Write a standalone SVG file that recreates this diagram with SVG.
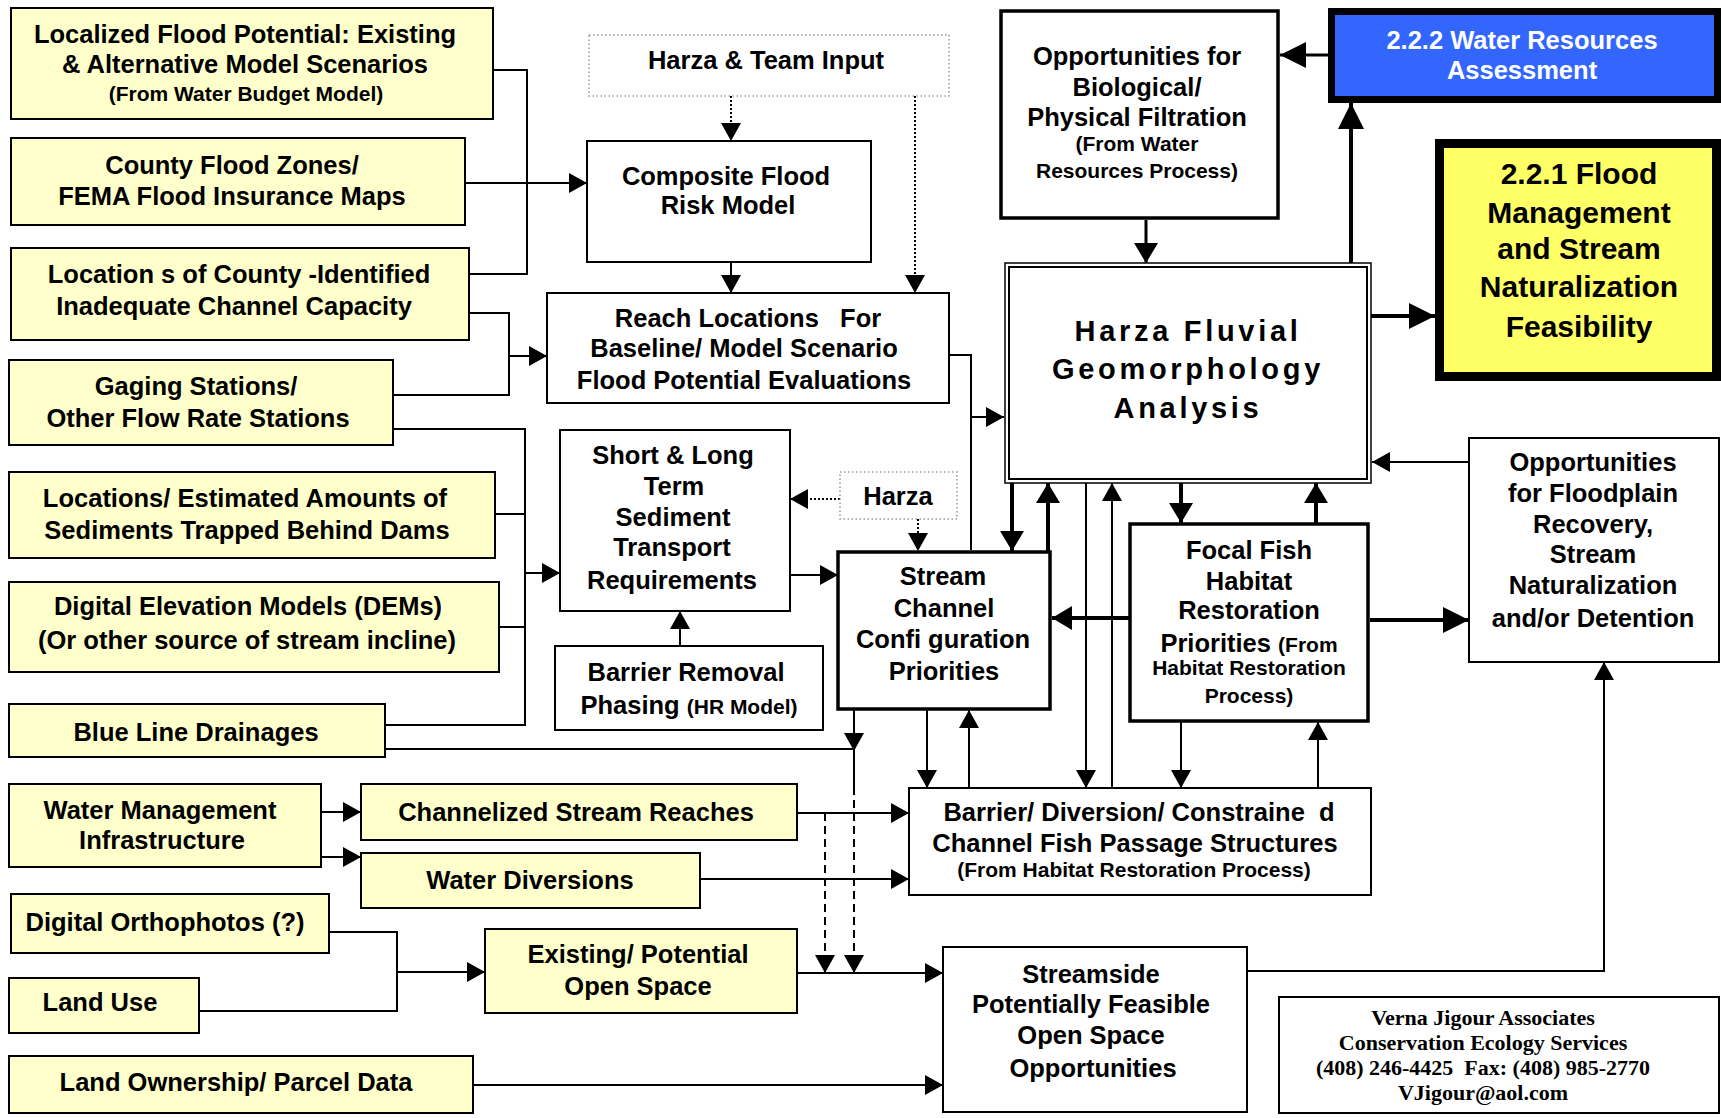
<svg xmlns="http://www.w3.org/2000/svg" width="1721" height="1118" viewBox="0 0 1721 1118">
<style>
text{font-family:"Liberation Sans",Arial,sans-serif;font-weight:bold;font-size:25.5px;text-anchor:middle;fill:#000}
.s{font-size:21px}
.y{fill:#FFFFCC;stroke:#000;stroke-width:2}
.w{fill:#fff;stroke:#000;stroke-width:2}
.t{fill:#fff;stroke:#000;stroke-width:3.5}
.d{fill:#fff;stroke:#999;stroke-width:1.5;stroke-dasharray:1.5 2.5}
#conn path{fill:none;stroke:#000;stroke-width:2}
#conn path.k{stroke-width:4}
#conn path.m{stroke-width:3}
#conn path.dt{stroke-dasharray:2 2}
#conn path.ds{stroke-dasharray:8 5}
.pre{white-space:pre}
.serif{font-family:"Liberation Serif","Times New Roman",serif;font-size:22px}
</style>
<defs>
<marker id="ar" markerUnits="userSpaceOnUse" viewBox="0 0 18 20" markerWidth="18" markerHeight="20" refX="18" refY="10" orient="auto"><path d="M0,0L18,10L0,20z" fill="#000"/></marker>
<marker id="ak" markerUnits="userSpaceOnUse" viewBox="0 0 26 26" markerWidth="26" markerHeight="26" refX="26" refY="13" orient="auto"><path d="M0,0L26,13L0,26z" fill="#000"/></marker>
<marker id="am" markerUnits="userSpaceOnUse" viewBox="0 0 20 24" markerWidth="20" markerHeight="24" refX="20" refY="12" orient="auto"><path d="M0,0L20,12L0,24z" fill="#000"/></marker>
</defs>
<rect width="1721" height="1118" fill="#fff"/>

<g id="conn">
<path d="M493,70H527V274H469"/>
<path d="M465,183H587" marker-end="url(#ar)"/>
<path d="M469,313H509V395H393"/>
<path d="M509,356H547" marker-end="url(#ar)"/>
<path d="M393,429H525V725H385"/>
<path d="M495,514H525"/>
<path d="M499,627H525"/>
<path d="M525,573H560" marker-end="url(#ar)"/>
<path d="M385,749H854"/>
<path d="M854,710V751" marker-end="url(#ar)"/>
<path d="M854,749V787"/>
<path class="ds" d="M854,787V973" marker-end="url(#ar)"/>
<path class="ds" d="M825,813V973" marker-end="url(#ar)"/>
<path d="M321,812H361" marker-end="url(#ar)"/>
<path d="M321,857H361" marker-end="url(#ar)"/>
<path d="M797,813H909" marker-end="url(#ar)"/>
<path d="M700,879H909" marker-end="url(#ar)"/>
<path d="M329,932H397V1011H199"/>
<path d="M397,972H485" marker-end="url(#ar)"/>
<path d="M797,973H943" marker-end="url(#ar)"/>
<path d="M473,1085H943" marker-end="url(#ar)"/>
<path d="M1247,971H1604V662" marker-end="url(#ar)"/>
<path class="dt" d="M731,96V141" marker-end="url(#ar)"/>
<path class="dt" d="M915,96V293" marker-end="url(#ar)"/>
<path d="M731,262V293" marker-end="url(#ar)"/>
<path d="M949,355H971V550"/>
<path d="M971,417H1004" marker-end="url(#ar)"/>
<path class="dt" d="M840,499H790" marker-end="url(#ar)"/>
<path class="dt" d="M918,519V551" marker-end="url(#ar)"/>
<path d="M680,646V611" marker-end="url(#ar)"/>
<path d="M790,575H838" marker-end="url(#ar)"/>
<path class="k" d="M1012,483V551" marker-end="url(#am)"/>
<path class="k" d="M1048,551V483" marker-end="url(#am)"/>
<path class="k" d="M1129,618H1052" marker-end="url(#am)"/>
<path d="M927,710V788" marker-end="url(#ar)"/>
<path d="M969,788V710" marker-end="url(#ar)"/>
<path d="M1086,483V788" marker-end="url(#ar)"/>
<path d="M1112,788V483" marker-end="url(#ar)"/>
<path class="k" d="M1181,483V523" marker-end="url(#am)"/>
<path class="k" d="M1316,523V483" marker-end="url(#am)"/>
<path d="M1181,722V788" marker-end="url(#ar)"/>
<path d="M1318,788V722" marker-end="url(#ar)"/>
<path class="k" d="M1370,620H1469" marker-end="url(#ak)"/>
<path d="M1469,462H1372" marker-end="url(#ar)"/>
<path class="m" d="M1146,220V263" marker-end="url(#am)"/>
<path class="m" d="M1328,55H1280" marker-end="url(#ak)"/>
<path class="k" d="M1351,263V103" marker-end="url(#ak)"/>
<path class="k" d="M1371,316H1435" marker-end="url(#ak)"/>
</g>

<g id="localized-flood"><rect class="y" x="11" y="8" width="482" height="111"/><text x="245" y="43">Localized Flood Potential: Existing</text><text x="245" y="73">&amp; Alternative Model Scenarios</text><text class="s" x="246" y="101">(From Water Budget Model)</text></g>
<g id="county-flood-zones"><rect class="y" x="11" y="138" width="454" height="87"/><text x="232" y="174">County Flood Zones/</text><text x="232" y="205">FEMA Flood Insurance Maps</text></g>
<g id="inadequate-capacity"><rect class="y" x="11" y="248" width="458" height="92"/><text class="pre" x="239" y="283" xml:space="preserve">Location s of County -Identified</text><text x="234" y="315">Inadequate Channel Capacity</text></g>
<g id="gaging-stations"><rect class="y" x="9" y="360" width="384" height="85"/><text x="196" y="395">Gaging Stations/</text><text x="198" y="427">Other Flow Rate Stations</text></g>
<g id="sediments"><rect class="y" x="9" y="472" width="486" height="86"/><text x="245" y="507">Locations/ Estimated Amounts of</text><text x="247" y="539">Sediments Trapped Behind Dams</text></g>
<g id="dem"><rect class="y" x="9" y="582" width="490" height="90"/><text x="248" y="615">Digital Elevation Models (DEMs)</text><text x="247" y="649">(Or other source of stream incline)</text></g>
<g id="blue-line"><rect class="y" x="9" y="704" width="376" height="53"/><text x="196" y="741">Blue Line Drainages</text></g>
<g id="water-mgmt"><rect class="y" x="9" y="784" width="312" height="83"/><text x="160" y="819">Water Management</text><text x="162" y="849">Infrastructure</text></g>
<g id="channelized"><rect class="y" x="361" y="784" width="436" height="56"/><text x="576" y="821">Channelized Stream Reaches</text></g>
<g id="diversions"><rect class="y" x="361" y="853" width="339" height="55"/><text x="530" y="889">Water Diversions</text></g>
<g id="orthophotos"><rect class="y" x="11" y="894" width="318" height="59"/><text x="165" y="931">Digital Orthophotos (?)</text></g>
<g id="land-use"><rect class="y" x="9" y="978" width="190" height="55"/><text x="100" y="1011">Land Use</text></g>
<g id="open-space"><rect class="y" x="485" y="929" width="312" height="84"/><text x="638" y="963">Existing/ Potential</text><text x="638" y="995">Open Space</text></g>
<g id="land-ownership"><rect class="y" x="9" y="1056" width="464" height="57"/><text x="236" y="1091">Land Ownership/ Parcel Data</text></g>

<g id="team-input"><rect class="d" x="589" y="35" width="360" height="61"/><text x="766" y="69">Harza &amp; Team Input</text></g>
<g id="composite"><rect class="w" x="587" y="141" width="284" height="121"/><text x="726" y="185">Composite Flood</text><text x="728" y="214">Risk Model</text></g>
<g id="reach"><rect class="w" x="547" y="293" width="402" height="110"/><text class="pre" x="748" y="327" xml:space="preserve">Reach Locations   For</text><text x="744" y="357">Baseline/ Model Scenario</text><text x="744" y="389">Flood Potential Evaluations</text></g>
<g id="sediment-transport"><rect class="w" x="560" y="430" width="230" height="181"/><text x="673" y="464">Short &amp; Long</text><text x="674" y="495">Term</text><text x="673" y="526">Sediment</text><text x="672" y="556">Transport</text><text x="672" y="589">Requirements</text></g>
<g id="harza"><rect class="d" x="840" y="472" width="117" height="47"/><text x="898" y="505">Harza</text></g>
<g id="barrier-removal"><rect class="w" x="555" y="646" width="268" height="84"/><text x="686" y="681">Barrier Removal</text><text x="689" y="714">Phasing <tspan class="s">(HR Model)</tspan></text></g>
<g id="stream-channel"><rect class="t" x="838" y="552" width="212" height="157"/><text x="943" y="585">Stream</text><text x="944" y="617">Channel</text><text class="pre" x="943" y="648" xml:space="preserve">Confi guration</text><text x="944" y="680">Priorities</text></g>
<g id="fish-passage"><rect class="w" x="909" y="788" width="462" height="107"/><text class="pre" x="1139" y="821" xml:space="preserve">Barrier/ Diversion/ Constraine  d</text><text x="1135" y="852">Channel Fish Passage Structures</text><text class="s" x="1134" y="877">(From Habitat Restoration Process)</text></g>
<g id="streamside"><rect class="w" x="943" y="947" width="304" height="165"/><text x="1091" y="983">Streamside</text><text x="1091" y="1013">Potentially Feasible</text><text x="1091" y="1044">Open Space</text><text x="1093" y="1077">Opportunities</text></g>

<g id="filtration"><rect class="t" x="1001" y="11" width="277" height="207"/><text x="1137" y="65">Opportunities for</text><text x="1137" y="96">Biological/</text><text x="1137" y="126">Physical Filtration</text><text class="s" x="1137" y="151">(From Water</text><text class="s" x="1137" y="178">Resources Process)</text></g>
<g id="water-resources"><rect x="1331.5" y="11.5" width="386" height="88" fill="#3366FF" stroke="#000" stroke-width="7"/><text x="1522" y="49" fill="#fff" style="fill:#fff">2.2.2 Water Resources</text><text x="1522" y="79" style="fill:#fff">Assessment</text></g>
<g id="flood-management"><rect x="1439.5" y="143.5" width="277" height="233" fill="#FFFF66" stroke="#000" stroke-width="9"/><text x="1579" y="184" style="font-size:30px">2.2.1 Flood</text><text x="1579" y="223" style="font-size:30px">Management</text><text x="1579" y="259" style="font-size:30px">and Stream</text><text x="1579" y="297" style="font-size:30px">Naturalization</text><text x="1579" y="337" style="font-size:30px">Feasibility</text></g>
<g id="fluvial"><rect x="1005" y="263" width="366" height="220" fill="#fff" stroke="#000" stroke-width="1.5"/><rect x="1009" y="267" width="358" height="212" fill="none" stroke="#000" stroke-width="2"/><text x="1188" y="341" style="font-size:29px;letter-spacing:3.7px">Harza Fluvial</text><text x="1188" y="379" style="font-size:29px;letter-spacing:3.7px">Geomorphology</text><text x="1188" y="418" style="font-size:29px;letter-spacing:3.7px">Analysis</text></g>
<g id="focal-fish"><rect class="t" x="1130" y="524" width="238" height="197"/><text x="1249" y="559">Focal Fish</text><text x="1249" y="590">Habitat</text><text x="1249" y="619">Restoration</text><text x="1249" y="652">Priorities <tspan class="s">(From</tspan></text><text class="s" x="1249" y="675">Habitat Restoration</text><text class="s" x="1249" y="703">Process)</text></g>
<g id="floodplain"><rect class="w" x="1469" y="438" width="250" height="224"/><text x="1593" y="471">Opportunities</text><text x="1593" y="502">for Floodplain</text><text x="1593" y="533">Recovery,</text><text x="1593" y="563">Stream</text><text x="1593" y="594">Naturalization</text><text x="1593" y="627">and/or Detention</text></g>
<g id="credit"><rect class="w" x="1279" y="997" width="440" height="116"/><text class="serif" x="1483" y="1025">Verna Jigour Associates</text><text class="serif" x="1483" y="1050">Conservation Ecology Services</text><text class="serif pre" x="1483" y="1075" xml:space="preserve">(408) 246-4425  Fax: (408) 985-2770</text><text class="serif" x="1483" y="1100">VJigour@aol.com</text></g>
</svg>
